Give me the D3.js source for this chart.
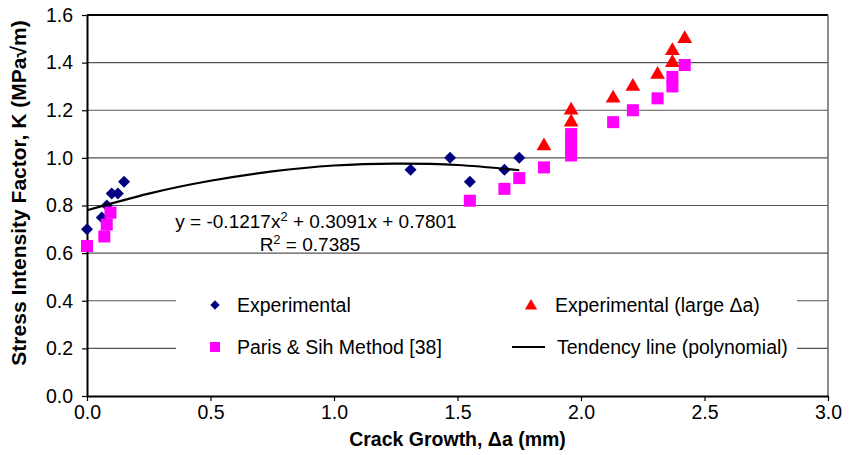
<!DOCTYPE html>
<html>
<head>
<meta charset="utf-8">
<script src="https://cdn.jsdelivr.net/npm/d3@7"></script>
<style>
    body { margin: 0; background: #fff; }
    text { font-family: "Liberation Sans", Arial, sans-serif; }
</style>
</head>
<body>
<div id="chart"></div>
<script>
// Experimental (diamonds)
const expX = [0.00, 0.06, 0.08, 0.10, 0.125, 0.15, 1.31, 1.47, 1.55, 1.69, 1.75];
const expY = [0.70, 0.75, 0.80, 0.85, 0.85, 0.90, 0.95, 1.00, 0.90, 0.95, 1.00];

// Experimental, large crack growth (triangles)
const largeX = [1.85, 1.96, 1.96, 2.13, 2.21, 2.31, 2.37, 2.37, 2.42];
const largeY = [1.05, 1.15, 1.20, 1.25, 1.30, 1.35, 1.40, 1.45, 1.50];

// Paris & Sih method (squares)
const parisX = [0.00, 0.07, 0.08, 0.095, 1.55, 1.69, 1.75, 1.85, 1.96, 1.96, 1.96, 1.96, 2.13, 2.21, 2.31, 2.37, 2.37, 2.42];
const parisY = [0.63, 0.67, 0.72, 0.77, 0.82, 0.87, 0.915, 0.96, 1.01, 1.04, 1.07, 1.10, 1.15, 1.20, 1.25, 1.30, 1.34, 1.39];

// Tendency line
const trendX = [0.00, 0.25, 0.50, 0.75, 1.00, 1.25, 1.50, 1.75];
const trendY = [0.780, 0.850, 0.904, 0.943, 0.968, 0.976, 0.970, 0.948];

const xTicks = [0, 0.5, 1.0, 1.5, 2.0, 2.5, 3.0];
const yTicks = [0, 0.2, 0.4, 0.6, 0.8, 1.0, 1.2, 1.4, 1.6];

const width = 849, height = 455;
const margin = { top: 15, right: 21, bottom: 59, left: 87 };

const svg = d3.select("#chart").append("svg")
    .attr("width", width)
    .attr("height", height);

const x = d3.scaleLinear().domain([0, 3]).range([margin.left, width - margin.right]);
const y = d3.scaleLinear().domain([0, 1.6]).range([height - margin.bottom, margin.top]);

// gridlines
svg.append("g")
    .selectAll("line")
    .data(yTicks.slice(1))
    .join("line")
    .attr("x1", x(0)).attr("x2", x(3))
    .attr("y1", d => y(d)).attr("y2", d => y(d))
    .attr("stroke", d => d === 1.6 ? "#000" : "#555")
    .attr("stroke-width", d => d === 1.6 ? 2 : 1.2);

// right border
svg.append("line")
    .attr("x1", x(3)).attr("x2", x(3))
    .attr("y1", y(1.6)).attr("y2", y(0))
    .attr("stroke", "#666").attr("stroke-width", 1.5);

// legend background covers the gridlines
svg.append("rect")
    .attr("x", 176).attr("y", 282)
    .attr("width", 621).attr("height", 86)
    .attr("fill", "#fff");

// axes
const fmt = d3.format(".1f");
const xAxis = svg.append("g")
    .attr("transform", `translate(0,${y(0)})`)
    .call(d3.axisBottom(x).tickValues(xTicks).tickFormat(fmt).tickSizeInner(5).tickSizeOuter(0).tickPadding(4));
const yAxis = svg.append("g")
    .attr("transform", `translate(${x(0)},0)`)
    .call(d3.axisLeft(y).tickValues(yTicks).tickFormat(fmt).tickSizeInner(5).tickSizeOuter(0).tickPadding(9));

[xAxis, yAxis].forEach(a => {
    a.select(".domain").attr("stroke", "#000").attr("stroke-width", 2);
    a.selectAll(".tick line").attr("stroke", "#000").attr("stroke-width", 1.2);
    a.selectAll(".tick text")
        .attr("fill", "#000")
        .style("font-family", '"Liberation Sans", Arial, sans-serif')
        .style("font-size", "19.5px");
});

// axis titles
svg.append("text")
    .attr("x", (x(0) + x(3)) / 2)
    .attr("y", 446)
    .attr("text-anchor", "middle")
    .style("font-size", "19.5px")
    .style("font-weight", "bold")
    .text("Crack Growth, \u0394a (mm)");

svg.append("text")
    .attr("transform", "translate(26,193) rotate(-90)")
    .attr("text-anchor", "middle")
    .style("font-size", "21px")
    .style("font-weight", "bold")
    .text("Stress Intensity Factor, K (MPa\u221Am)");

// markers
const triangle = d3.symbol().type(d3.symbolTriangle).size(95);

svg.append("g")
    .selectAll("path")
    .data(d3.zip(largeX, largeY))
    .join("path")
    .attr("d", triangle)
    .attr("transform", d => `translate(${x(d[0])},${y(d[1])})`)
    .attr("fill", "#ff0000");

svg.append("g")
    .selectAll("path")
    .data(d3.zip(expX, expY))
    .join("path")
    .attr("d", d3.symbol().type(d3.symbolSquare).size(72))
    .attr("transform", d => `translate(${x(d[0])},${y(d[1])}) rotate(45)`)
    .attr("fill", "#000080");

const sq = 12;
svg.append("g")
    .selectAll("rect")
    .data(d3.zip(parisX, parisY))
    .join("rect")
    .attr("x", d => x(d[0]) - sq / 2)
    .attr("y", d => y(d[1]) - sq / 2)
    .attr("width", sq).attr("height", sq)
    .attr("fill", "#ff00ff");

// tendency line
const line = d3.line()
    .x(d => x(d[0]))
    .y(d => y(d[1]))
    .curve(d3.curveNatural);

svg.append("path")
    .datum(d3.zip(trendX, trendY))
    .attr("d", line)
    .attr("fill", "none")
    .attr("stroke", "#000")
    .attr("stroke-width", 2.2);

// equation
const eq = svg.append("text")
    .attr("x", 316).attr("y", 228)
    .attr("text-anchor", "middle")
    .style("font-size", "19px");
eq.append("tspan").text("y = -0.1217x");
eq.append("tspan").attr("dy", -7).style("font-size", "13px").text("2");
eq.append("tspan").attr("dy", 7).text(" + 0.3091x + 0.7801");

const r2 = svg.append("text")
    .attr("x", 310).attr("y", 251)
    .attr("text-anchor", "middle")
    .style("font-size", "19px");
r2.append("tspan").text("R");
r2.append("tspan").attr("dy", -7).style("font-size", "13px").text("2");
r2.append("tspan").attr("dy", 7).text(" = 0.7385");

// legend
const legend = svg.append("g");
legend.append("path")
    .attr("d", d3.symbol().type(d3.symbolSquare).size(44))
    .attr("transform", "translate(215,305) rotate(45)")
    .attr("fill", "#000080");
legend.append("path")
    .attr("d", d3.symbol().type(d3.symbolTriangle).size(65))
    .attr("transform", "translate(531,306)")
    .attr("fill", "#ff0000");
legend.append("rect")
    .attr("x", 210).attr("y", 342).attr("width", 10).attr("height", 10)
    .attr("fill", "#ff00ff");
legend.append("line")
    .attr("x1", 512).attr("x2", 545).attr("y1", 347).attr("y2", 347)
    .attr("stroke", "#000").attr("stroke-width", 2.2);

const legendText = [
    { tx: 237, ty: 312, label: "Experimental" },
    { tx: 555, ty: 312, label: "Experimental (large \u0394a)" },
    { tx: 237, ty: 354, label: "Paris & Sih Method [38]" },
    { tx: 557, ty: 354, label: "Tendency line (polynomial)" }
];
legend.selectAll("text")
    .data(legendText)
    .join("text")
    .attr("x", d => d.tx).attr("y", d => d.ty)
    .style("font-size", "19.5px")
    .text(d => d.label);
</script>
</body>
</html>
